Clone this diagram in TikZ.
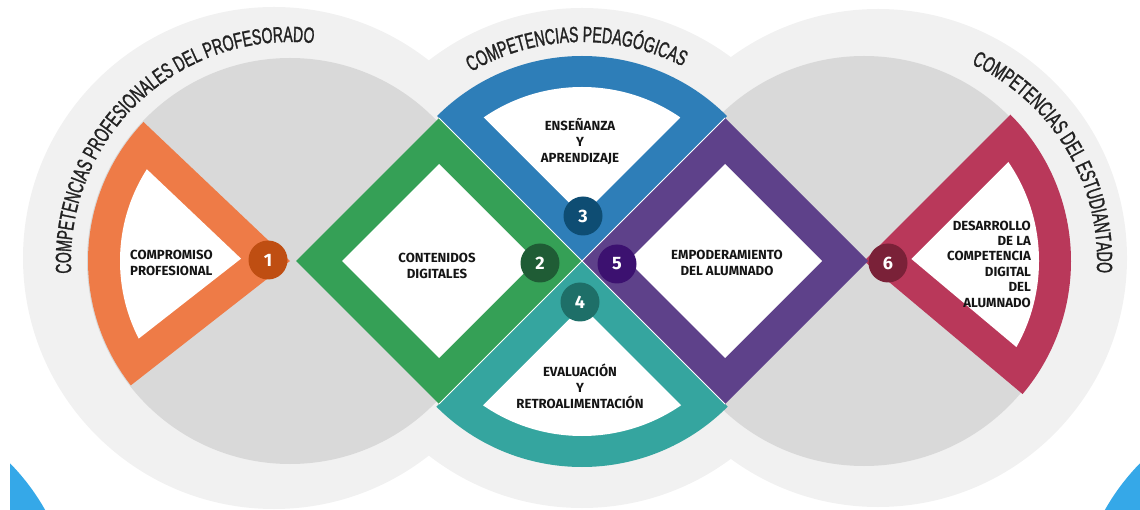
\documentclass[tikz,border=0pt]{standalone}
\usepackage{fontspec}
\setmainfont{Fira Sans}
\newfontfamily\ringfont[FakeStretch=0.64,FakeBold=1.2]{Liberation Sans}
\usetikzlibrary{calc,decorations.text}

\definecolor{lightbg}{HTML}{F1F1F1}
\definecolor{darkbg}{HTML}{D9D9D9}
\definecolor{cornerblue}{HTML}{35A8E8}
\definecolor{orangeC}{HTML}{EE7B47}
\definecolor{greenC}{HTML}{35A056}
\definecolor{blueC}{HTML}{2E7EB8}
\definecolor{tealC}{HTML}{35A59F}
\definecolor{purpleC}{HTML}{5E418A}
\definecolor{redC}{HTML}{B9385A}
\definecolor{bOne}{HTML}{BF4E12}
\definecolor{bTwo}{HTML}{1F5C35}
\definecolor{bThree}{HTML}{0E4D73}
\definecolor{bFour}{HTML}{1E6F68}
\definecolor{bFive}{HTML}{3C1170}
\definecolor{bSix}{HTML}{7A2138}
\definecolor{labeltext}{HTML}{151515}
\definecolor{ringtext}{HTML}{222222}

\begin{document}
\begin{tikzpicture}[x=1pt,y=1pt,
  lbl/.style={font=\bfseries\fontsize{13.2}{16}\selectfont, text=labeltext, align=center, inner sep=0pt},
  badge/.style={circle, minimum size=39pt, inner sep=0pt, font=\bfseries\fontsize{18}{18}\selectfont, text=white},
  sep/.style={white, line width=1pt},
  ringlabel/.style={decorate, decoration={text along path, text align=center,
     text format delimiters={[}{]}}}
]
\useasboundingbox (0,0) rectangle (1140,509);
\clip (0,0) rectangle (1140,509);

% key points
\coordinate (Lc) at (274,251);
\coordinate (Mc) at (582,251);
\coordinate (Rc) at (878,251);
\coordinate (O) at (290,248);
\coordinate (Rd) at (864,248);
\coordinate (M) at (582,248);
\coordinate (G) at (439,248);
\coordinate (P) at (725,248);

% corner decorations
\begin{scope}
  \clip (10,0) rectangle (1140,509);
  \fill[cornerblue] (-150,-111) circle (224);
\end{scope}
\fill[cornerblue] (1300,-111) circle (224);

% background rings
\fill[lightbg] (Lc) circle (251) (Mc) circle (250) (Rc) circle (249);
\fill[darkbg] (O) circle (203) (Rd) circle (205);

% orange sector
\fill[orangeC] (O) -- ++(136.5:202) arc[start angle=136.5, end angle=218, radius=202] -- cycle;
\coordinate (Ow) at ($(O)+(177.25:49)$);
\begin{scope}
  \clip (O) circle (170);
  \fill[white] (Ow) -- ($(Ow)+(136.5:300)$) -- ($(Ow)+(218:300)$) -- cycle;
\end{scope}

% red sector
\fill[redC] (Rd) -- ++(-40:207) arc[start angle=-40, end angle=45, radius=207] -- cycle;
\coordinate (Rw) at ($(Rd)+(2.5:47.4)$);
\begin{scope}
  \clip (Rd) circle (175);
  \fill[white] (Rw) -- ($(Rw)+(-40:300)$) -- ($(Rw)+(45:300)$) -- cycle;
\end{scope}

% blue sector
\fill[blueC] (M) -- ++(45:205) arc[start angle=45, end angle=135, radius=205] -- cycle;
\coordinate (Bw) at ($(M)+(90:45.25)$);
\begin{scope}
  \clip (M) circle (174);
  \fill[white] (Bw) -- ($(Bw)+(45:300)$) -- ($(Bw)+(135:300)$) -- cycle;
\end{scope}

% teal sector
\fill[tealC] (M) -- ++(225:206) arc[start angle=225, end angle=315, radius=206] -- cycle;
\coordinate (Tw) at ($(M)+(270:45.25)$);
\begin{scope}
  \clip (M) circle (175);
  \fill[white] (Tw) -- ($(Tw)+(225:300)$) -- ($(Tw)+(315:300)$) -- cycle;
\end{scope}

% green diamond
\fill[greenC] ($(G)+(143,0)$) -- ($(G)+(0,143)$) -- ($(G)+(-143,0)$) -- ($(G)+(0,-143)$) -- cycle;
\fill[white] ($(G)+(97,0)$) -- ($(G)+(0,97)$) -- ($(G)+(-97,0)$) -- ($(G)+(0,-97)$) -- cycle;

% purple diamond
\fill[purpleC] ($(P)+(143,0)$) -- ($(P)+(0,143)$) -- ($(P)+(-143,0)$) -- ($(P)+(0,-143)$) -- cycle;
\fill[white] ($(P)+(97,0)$) -- ($(P)+(0,97)$) -- ($(P)+(-97,0)$) -- ($(P)+(0,-97)$) -- cycle;

% separators
\draw[sep] ($(G)+(0,143)$) -- ($(P)+(0,-143)$);
\draw[sep] ($(P)+(0,143)$) -- ($(G)+(0,-143)$);

% badges
\node[badge, fill=bOne]   (n1) at (268,249) {1};
\node[badge, fill=bTwo]   (n2) at (540,246) {2};
\node[badge, fill=bThree] (n3) at (583,293) {3};
\node[badge, fill=bFour]  (n4) at (580,207) {4};
\node[badge, fill=bFive]  (n5) at (617,245) {5};
\node[badge, fill=bSix]   (n6) at (888,246) {6};

% labels
\node[lbl, align=left, anchor=west] (t1) at (130,246) {COMPROMISO\\PROFESIONAL};
\node[lbl] (t2) at (437,243) {CONTENIDOS\\DIGITALES};
\node[lbl] (t3) at (580,367) {ENSEÑANZA\\Y\\APRENDIZAJE};
\node[lbl] (t4) at (580,123) {EVALUACIÓN\\Y\\RETROALIMENTACIÓN};
\node[lbl] (t5) at (727,246) {EMPODERAMIENTO\\DEL ALUMNADO};
\node[lbl, font=\bfseries\fontsize{13.2}{15.4}\selectfont, align=right, anchor=east] (t6) at (1031,245)
  {DESARROLLO\\DE LA\\COMPETENCIA\\DIGITAL\\DEL\\ALUMNADO};

% ring texts
\path[ringlabel, decoration={text={[\ringfont\fontsize{22}{22}\selectfont\color{ringtext}]COMPETENCIAS PROFESIONALES DEL PROFESORADO}}]
  ($(O)+(189:219)$) arc[start angle=189, end angle=78, radius=219];
\path[ringlabel, decoration={text={[\ringfont\fontsize{22}{22}\selectfont\color{ringtext}]COMPETENCIAS PEDAGÓGICAS}}]
  ($(M)+(126:219)$) arc[start angle=126, end angle=57, radius=219];
\path[ringlabel, decoration={text={[\ringfont\fontsize{22}{22}\selectfont\color{ringtext}]COMPETENCIAS DEL ESTUDIANTADO}}]
  ($(880,248)+(75:217)$) arc[start angle=75, end angle=-13, radius=217];
\end{tikzpicture}
\end{document}
